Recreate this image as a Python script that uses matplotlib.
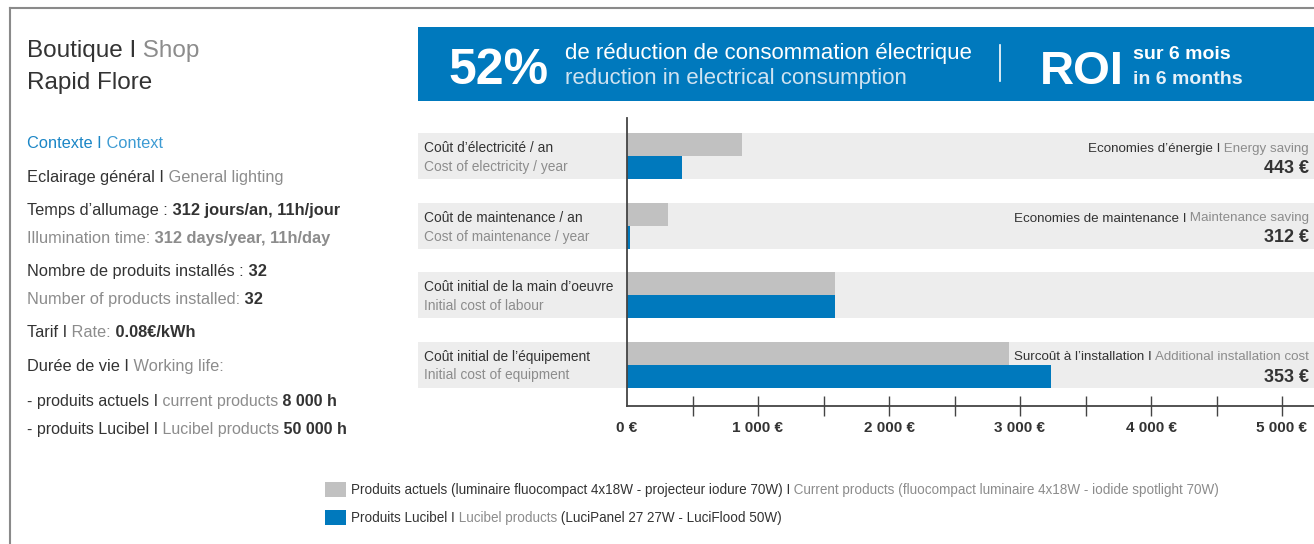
import matplotlib
matplotlib.use('Agg')
import matplotlib.pyplot as plt
from matplotlib.patches import Rectangle
from matplotlib.ticker import FixedLocator

plt.rcParams['font.family'] = ['Liberation Sans', 'DejaVu Sans']

BLUE = '#0079bd'
GREY_BAR = '#c1c1c1'
BAND = '#ededed'
DARK = '#333333'
LIGHT = '#8c8c8c'

# data
rows_fr = ['Coût d’électricité / an', 'Coût de maintenance / an',
           'Coût initial de la main d’oeuvre', 'Coût initial de l’équipement']
rows_en = ['Cost of electricity / year', 'Cost of maintenance / year',
           'Initial cost of labour', 'Initial cost of equipment']
current = [878, 313, 1587, 2916]
lucibel = [420, 25, 1587, 3237]
saving_fr = ['Economies d’énergie I', 'Economies de maintenance I', None, 'Surcoût à l’installation I']
saving_en = [' Energy saving', ' Maintenance saving', None, ' Additional installation cost']
saving_val = ['443 €', '312 €', None, '353 €']
tick_vals = [0, 1000, 2000, 3000, 4000, 5000]
tick_labels = ['0 €', '1 000 €', '2 000 €', '3 000 €', '4 000 €', '5 000 €']

W, H = 1314, 544
fig = plt.figure(figsize=(W / 100, H / 100), dpi=100)

# ---- bar chart ----
ax = fig.add_axes([418 / W, 1 - 406 / H, (1314 - 418) / W, (406 - 118) / H])
px = 0.131  # pixels per euro
ax.set_xlim(-(627 - 418) / px, (1314 - 627) / px)
ax.set_ylim(3 + (406 - 364.5) / 69.5, -(156 - 118) / 69.5)
h = 23 / 69.5
ys = list(range(len(current)))
for y in ys:
    ax.axhspan(y - h, y + h, color=BAND, lw=0, zorder=0)
ax.barh([y - h for y in ys], current, height=h, align='edge', color=GREY_BAR, zorder=2)
ax.barh(ys, lucibel, height=h, align='edge', color=BLUE, zorder=2)
ax.plot([0, 0], ax.get_ylim(), color='#444444', lw=1.3, zorder=3, clip_on=False)

for s in ['top', 'right', 'left']:
    ax.spines[s].set_visible(False)
ax.spines['bottom'].set_bounds(0, ax.get_xlim()[1])
ax.spines['bottom'].set_color('#444444')
ax.spines['bottom'].set_linewidth(1.3)
ax.set_yticks([])
ax.set_xticks(tick_vals)
ax.set_xticklabels(tick_labels, fontsize=11, fontweight='bold', color=DARK)
ax.xaxis.remove_overlapping_locs = False
ax.xaxis.set_minor_locator(FixedLocator([v for v in range(500, 5001, 500)]))
ax.tick_params(axis='x', which='major', length=0, pad=11)
ax.tick_params(axis='x', which='minor', direction='inout', length=14, width=1, color='#444444')

# ---- overlay in pixel coordinates ----
ov = fig.add_axes([0, 0, 1, 1], facecolor='none')
ov.set_xlim(0, W)
ov.set_ylim(H, 0)
ov.axis('off')
r = fig.canvas.get_renderer()


def seg(x, y, parts, size, ha='left'):
    # parts: (text, colour, weight)
    if ha == 'right':
        parts = parts[::-1]
    for s, c, w in parts:
        t = ov.text(x, y, s, color=c, fontsize=size, fontweight=w, ha=ha, va='baseline')
        wd = t.get_window_extent(renderer=r).width
        x = x + wd if ha == 'left' else x - wd


# frame
ov.plot([10, W], [8, 8], color='#8a8a8a', lw=1.5)
ov.plot([10, 10], [8, H], color='#8a8a8a', lw=1.5)

# left panel
seg(27, 57, [('Boutique I', DARK, 'normal'), (' Shop', LIGHT, 'normal')], 17.5)
seg(27, 89, [('Rapid Flore', DARK, 'normal')], 17.5)
seg(27, 148, [('Contexte I', '#1b86c6', 'normal'), (' Context', '#3d9bd3', 'normal')], 11.8)
seg(27, 182, [('Eclairage général I', DARK, 'normal'), (' General lighting', LIGHT, 'normal')], 11.8)
seg(27, 215, [('Temps d’allumage :', DARK, 'normal'), (' 312 jours/an, 11h/jour', DARK, 'bold')], 11.8)
seg(27, 243, [('Illumination time:', LIGHT, 'normal'), (' 312 days/year, 11h/day', LIGHT, 'bold')], 11.8)
seg(27, 276, [('Nombre de produits installés :', DARK, 'normal'), (' 32', DARK, 'bold')], 11.8)
seg(27, 304, [('Number of products installed:', LIGHT, 'normal'), (' 32', DARK, 'bold')], 11.8)
seg(27, 337, [('Tarif I', DARK, 'normal'), (' Rate:', LIGHT, 'normal'), (' 0.08€/kWh', DARK, 'bold')], 11.8)
seg(27, 371, [('Durée de vie I', DARK, 'normal'), (' Working life:', LIGHT, 'normal')], 11.8)
seg(27, 406, [('- produits actuels I', DARK, 'normal'), (' current products', LIGHT, 'normal'),
              (' 8 000 h', DARK, 'bold')], 11.5)
seg(27, 434, [('- produits Lucibel I', DARK, 'normal'), (' Lucibel products', LIGHT, 'normal'),
              (' 50 000 h', DARK, 'bold')], 11.5)

# header banner
ov.add_patch(Rectangle((418, 27), W - 418, 74, color=BLUE, lw=0))
ov.text(448, 84, '52%', color='white', fontsize=36, fontweight='bold', va='baseline')
ov.text(565, 59, 'de réduction de consommation électrique', color='white', fontsize=16, va='baseline')
ov.text(565, 84, 'reduction in electrical consumption', color='#cfe3f1', fontsize=16, va='baseline')
ov.plot([1000, 1000], [45, 81], color='white', lw=1.2)
ov.text(1040, 84, 'ROI', color='white', fontsize=34, fontweight='bold', va='baseline')
ov.text(1133, 59, 'sur 6 mois', color='white', fontsize=14, fontweight='bold', va='baseline')
ov.text(1133, 84, 'in 6 months', color='#e6f0f8', fontsize=14, fontweight='bold', va='baseline')

# row labels and savings
for i in ys:
    yb = 152 + 69.5 * i
    ov.text(424, yb, rows_fr[i], color=DARK, fontsize=9.9, va='baseline')
    ov.text(424, yb + 19, rows_en[i], color=LIGHT, fontsize=9.9, va='baseline')
    if saving_fr[i]:
        seg(1309, yb, [(saving_fr[i], DARK, 'normal'), (saving_en[i], LIGHT, 'normal')], 9.6, ha='right')
        ov.text(1309, yb + 21, saving_val[i], color=DARK, fontsize=13, fontweight='bold',
                ha='right', va='baseline')

# legend
ov.add_patch(Rectangle((325, 482), 21, 15, color=GREY_BAR, lw=0))
ov.add_patch(Rectangle((325, 510), 21, 15, color=BLUE, lw=0))
seg(351, 494, [('Produits actuels (luminaire fluocompact 4x18W - projecteur iodure 70W) I', DARK, 'normal'),
               (' Current products (fluocompact luminaire 4x18W - iodide spotlight 70W)', LIGHT, 'normal')], 9.75)
seg(351, 522, [('Produits Lucibel I', DARK, 'normal'), (' Lucibel products', LIGHT, 'normal'),
               (' (LuciPanel 27 27W - LuciFlood 50W)', DARK, 'normal')], 9.75)

fig.savefig('out.png', dpi=100)
